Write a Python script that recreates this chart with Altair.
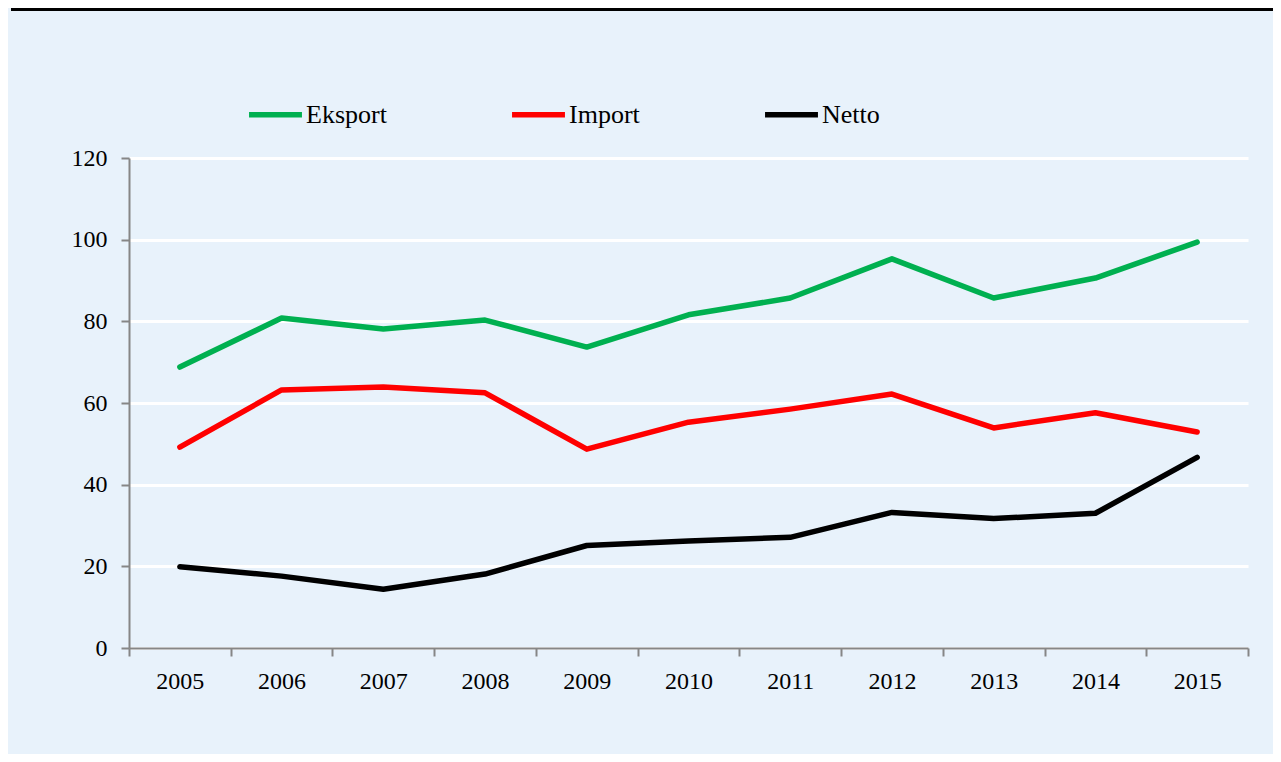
import altair as alt
import pandas as pd

years = ["2005", "2006", "2007", "2008", "2009", "2010", "2011", "2012", "2013", "2014", "2015"]
eksport = [68.8, 80.8, 78.1, 80.3, 73.7, 81.6, 85.7, 95.3, 85.7, 90.6, 99.4]
importv = [49.2, 63.2, 63.9, 62.5, 48.7, 55.3, 58.5, 62.2, 53.9, 57.6, 52.9]
netto = [19.9, 17.6, 14.4, 18.1, 25.1, 26.2, 27.1, 33.2, 31.7, 33.0, 46.7]
series = ["Eksport", "Import", "Netto"]
colors = ["#00B050", "#FF0000", "#000000"]
y_ticks = [0, 20, 40, 60, 80, 100, 120]

rows = []
for name, vals in zip(series, [eksport, importv, netto]):
    for yr, v in zip(years, vals):
        rows.append({"year": yr, "value": v, "series": name})
df = pd.DataFrame(rows)

FONT = "Liberation Serif"
W, H = 1119, 490

lines = alt.Chart(df).mark_line(strokeWidth=5.5, strokeCap="round", strokeJoin="round").encode(
    x=alt.X("year:N", bandPosition=0.5, sort=years,
            scale=alt.Scale(type="band", paddingInner=0, paddingOuter=0),
            axis=alt.Axis(title=None, labelAngle=0, tickBand="extent", grid=False,
                          domainColor="#868686", domainWidth=2, tickColor="#868686",
                          tickWidth=2, tickSize=8, labelPadding=13,
                          labelFont=FONT, labelFontSize=24, labelColor="#000000")),
    y=alt.Y("value:Q", scale=alt.Scale(domain=[0, 120], nice=False),
            axis=alt.Axis(title=None, values=y_ticks, grid=True, gridColor="#FFFFFF",
                          gridWidth=3, domainColor="#868686", domainWidth=2,
                          tickColor="#868686", tickWidth=2, tickSize=8, labelPadding=14,
                          labelFont=FONT, labelFontSize=24, labelColor="#000000")),
    color=alt.Color("series:N", sort=series,
                    scale=alt.Scale(domain=series, range=colors),
                    legend=alt.Legend(title=None, orient="none", direction="horizontal",
                                      legendX=117, legendY=-73, symbolType="stroke",
                                      symbolSize=2800, symbolStrokeWidth=5.5,
                                      labelFont=FONT, labelFontSize=26, labelColor="#000000",
                                      labelOffset=1, columnPadding=114, padding=0)),
)

top_rule = alt.Chart(pd.DataFrame({"a": [0]})).mark_rule(color="#000000", strokeWidth=3).encode(
    x=alt.value(-118), x2=alt.value(W + 30), y=alt.value(-148.5)
)

chart = alt.layer(lines, top_rule).properties(
    width=W, height=H,
    autosize=alt.AutoSizeParams(type="none"),
    padding={"left": 121, "top": 150, "right": 25, "bottom": 106},
    background="#E8F2FB",
).configure_view(stroke=None, fill="#E8F2FB")

chart.save("out.html", embed_options={"renderer": "svg", "actions": False})
